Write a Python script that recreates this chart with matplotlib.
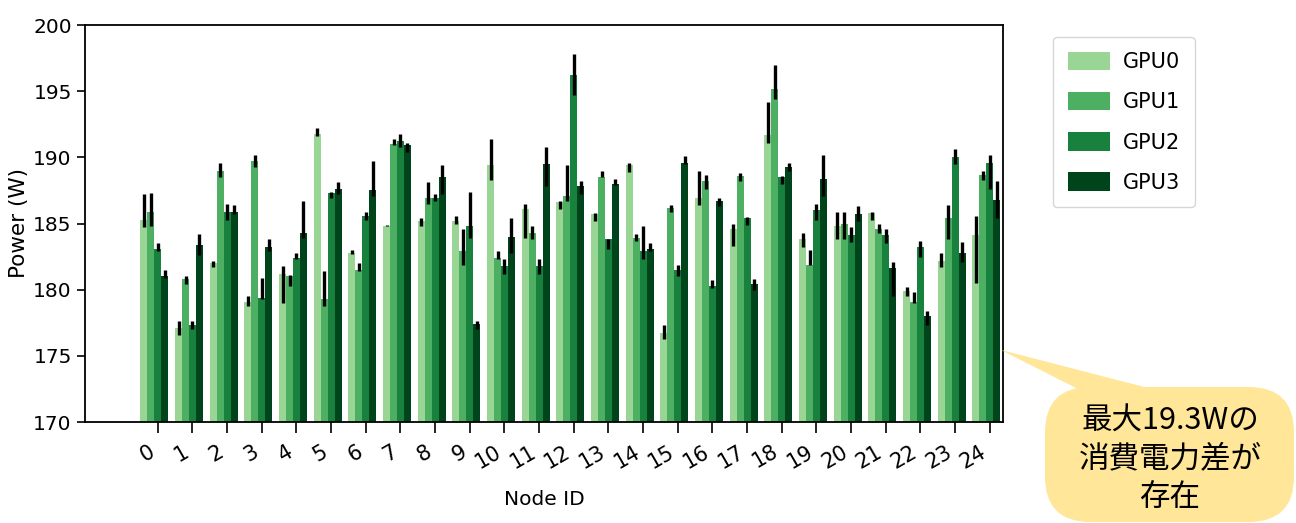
import matplotlib
matplotlib.use("Agg")
import matplotlib.pyplot as plt
import numpy as np
from matplotlib.patches import FancyBboxPatch, Polygon

nodes = list(range(25))
gpu_labels = ["GPU0", "GPU1", "GPU2", "GPU3"]
colors = ["#99d595", "#4caf62", "#17813d", "#00441b"]

gpu0_mean = [185.3, 177.1, 182.0, 179.1, 181.2, 191.8, 182.8, 184.8, 185.2, 185.2, 189.4, 186.1, 186.6,
             185.7, 189.4, 176.7, 186.9, 184.6, 191.7, 183.8, 184.8, 185.8, 179.9, 182.2, 184.1]
gpu0_lo = [184.7, 176.6, 181.7, 178.8, 179.0, 191.6, 182.7, 184.8, 184.8, 185.0, 188.3, 183.9, 186.1,
           185.2, 188.9, 176.3, 186.4, 183.3, 191.1, 183.2, 183.8, 185.3, 179.5, 181.7, 180.5]
gpu0_hi = [187.2, 177.6, 182.2, 179.5, 181.8, 192.2, 183.0, 184.9, 185.4, 185.6, 191.4, 186.5, 186.7,
           185.8, 189.6, 177.3, 189.0, 185.0, 194.2, 184.3, 185.9, 185.9, 180.2, 182.8, 185.6]

gpu1_mean = [185.9, 180.8, 189.0, 189.7, 181.0, 179.3, 181.5, 191.0, 186.9, 182.9, 182.4, 184.3, 187.1,
             188.5, 183.9, 186.2, 188.2, 188.6, 195.2, 181.9, 185.0, 184.6, 179.1, 185.4, 188.7]
gpu1_lo = [184.8, 180.4, 188.5, 189.3, 180.3, 178.8, 181.4, 190.9, 186.5, 181.9, 182.3, 183.8, 186.7,
           188.5, 183.7, 185.9, 187.6, 188.2, 194.4, 181.9, 183.8, 184.3, 179.0, 183.8, 188.3]
gpu1_hi = [187.3, 181.0, 189.6, 190.2, 181.1, 181.4, 182.0, 191.4, 188.1, 184.6, 182.9, 184.8, 189.4,
           189.0, 184.2, 186.4, 188.7, 188.8, 197.0, 183.0, 185.9, 185.0, 179.8, 186.4, 189.0]

gpu2_mean = [183.1, 177.3, 185.9, 179.4, 182.4, 187.3, 185.6, 191.2, 186.9, 184.8, 181.8, 181.8, 196.2,
             183.8, 182.9, 181.5, 180.3, 185.4, 188.5, 186.0, 184.1, 184.1, 183.2, 190.0, 189.6]
gpu2_lo = [182.9, 177.0, 185.3, 179.3, 182.3, 186.9, 185.3, 190.8, 186.7, 183.9, 181.2, 181.2, 194.7,
           183.1, 182.3, 181.0, 180.1, 184.9, 188.0, 185.3, 183.6, 183.5, 182.5, 189.5, 187.6]
gpu2_hi = [183.5, 177.6, 186.5, 180.9, 182.8, 187.4, 185.9, 191.8, 187.2, 187.4, 182.3, 182.3, 197.8,
           183.8, 184.8, 181.9, 180.7, 185.5, 188.6, 186.5, 184.7, 184.6, 183.7, 190.6, 190.2]

gpu3_mean = [181.0, 183.4, 185.9, 183.2, 184.3, 187.6, 187.5, 190.9, 188.5, 177.4, 184.0, 189.5, 187.8,
             188.0, 183.1, 189.6, 186.7, 180.4, 189.3, 188.4, 185.7, 181.6, 178.0, 182.8, 186.8]
gpu3_lo = [180.9, 182.6, 185.7, 182.9, 183.9, 187.2, 187.1, 190.4, 187.2, 177.0, 182.8, 187.8, 187.2,
           187.9, 182.9, 189.5, 186.3, 180.0, 189.0, 187.1, 185.2, 179.5, 177.3, 182.1, 185.4]
gpu3_hi = [181.5, 184.2, 186.4, 183.8, 186.7, 188.1, 189.7, 191.1, 189.4, 177.6, 185.4, 190.8, 188.2,
           188.4, 183.5, 190.1, 186.9, 180.8, 189.6, 190.2, 186.3, 182.1, 178.4, 183.6, 188.2]

means = [gpu0_mean, gpu1_mean, gpu2_mean, gpu3_mean]
los = [gpu0_lo, gpu1_lo, gpu2_lo, gpu3_lo]
his = [gpu0_hi, gpu1_hi, gpu2_hi, gpu3_hi]

callout_text = "最大19.3Wの\n消費電力差が\n存在"

W, H = 1296, 523
fig = plt.figure(figsize=(W / 100, H / 100), dpi=100)
ax = fig.add_axes([85 / W, 1 - 422 / H, (1003 - 85) / W, (422 - 25) / H])

x = np.arange(len(nodes))
bw = 0.2
for j in range(4):
    m = np.array(means[j])
    lo = np.clip(m - np.array(los[j]), 0, None)
    hi = np.clip(np.array(his[j]) - m, 0, None)
    ax.bar(x + (j - 2) * bw, m, width=bw, color=colors[j], label=gpu_labels[j],
           yerr=[lo, hi], error_kw=dict(ecolor="black", elinewidth=2.4, capsize=0), align="center")

ax.set_ylim(170, 200)
ax.set_xlim(-2.1, 24.38)
ax.set_yticks([170, 175, 180, 185, 190, 195, 200])
ax.set_xticks(x)
ax.set_xticklabels([str(n) for n in nodes], rotation=30, ha="right", fontsize=15)
ax.tick_params(axis="y", labelsize=14.5, length=6, width=1.2)
ax.tick_params(axis="x", length=8, width=1.2, pad=6)
for s in ax.spines.values():
    s.set_linewidth(1.3)
ax.set_xlabel("Node ID", fontsize=14.5, labelpad=13)
ax.set_ylabel("Power (W)", fontsize=15.5, labelpad=3)

ax.legend(loc="upper left", bbox_to_anchor=(1053 / W, 1 - 37 / H), bbox_transform=fig.transFigure,
          borderaxespad=0, fontsize=15, handlelength=2.05, handleheight=1.0, labelspacing=0.95,
          borderpad=0.7, handletextpad=0.6)

# callout
box = FancyBboxPatch((1045 / W, 1 - 522 / H), (1294 - 1045) / W, (522 - 387) / H,
                     boxstyle="round,pad=0,rounding_size=0.035", transform=fig.transFigure,
                     facecolor="#ffe699", edgecolor="none", mutation_aspect=W / H)
fig.add_artist(box)
tri = Polygon([(1001 / W, 1 - 350 / H), (1080 / W, 1 - 390 / H), (1156 / W, 1 - 390 / H)],
              closed=True, transform=fig.transFigure, facecolor="#ffe699", edgecolor="none")
fig.add_artist(tri)
fig.text(1170 / W, 1 - 459 / H, callout_text, ha="center", va="center", fontsize=22,
         linespacing=1.3, family=["Noto Sans CJK JP", "DejaVu Sans"])

fig.savefig("out.png", dpi=100)
